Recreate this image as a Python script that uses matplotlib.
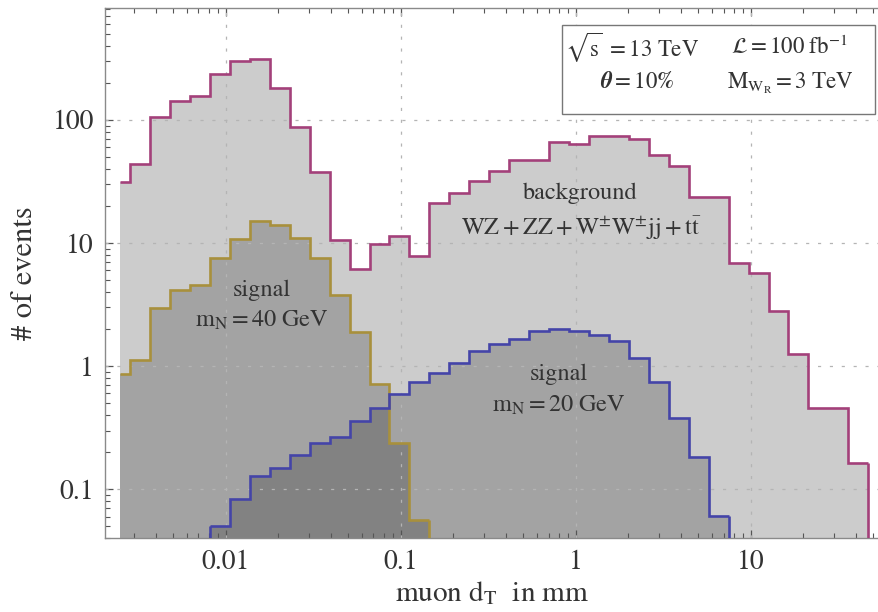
import numpy as np
import matplotlib
matplotlib.use("Agg")
import matplotlib.pyplot as plt
from matplotlib.patches import Rectangle
from matplotlib.ticker import LogLocator, NullFormatter, FixedLocator, FixedFormatter

plt.rcParams['font.family'] = ['STIXGeneral', 'DejaVu Serif']
plt.rcParams['mathtext.fontset'] = 'stix'

# ---- data ----
# bin edges in mm (first bin partially shown, then log-spaced bins)
first_edge = 0.00248
bin_edges = np.concatenate([[first_edge], np.logspace(-2.545, 1.671, 38)])

background = [31.5, 43.7, 106, 143, 157, 235, 301, 313, 181, 87, 37.6, 10.5,
              6.2, 9.8, 11.5, 7.8, 21.3, 25.4, 32.0, 38.6, 47.3, 47.3, 65.9,
              63.5, 74, 74, 70, 52, 42.3, 23.8, 23.8, 6.9, 5.7, 2.83, 1.25,
              0.46, 0.46, 0.163]
# signal mN = 40 GeV: bins 0..15
signal40 = [0.86, 1.12, 2.99, 4.16, 4.57, 7.6, 10.8, 15.2, 14.0, 10.9, 7.5,
            3.79, 1.88, 0.71, 0.236, 0.0563]
sig40_first_bin = 0
# signal mN = 20 GeV: bins 5..30
signal20 = [0.0503, 0.0834, 0.129, 0.150, 0.189, 0.239, 0.268, 0.359, 0.455,
            0.59, 0.74, 0.885, 1.06, 1.33, 1.51, 1.65, 1.93, 2.01, 1.93, 1.79,
            1.60, 1.16, 0.748, 0.382, 0.184, 0.0607]
sig20_first_bin = 5

x_ticks = [0.01, 0.1, 1, 10]
x_ticklabels = ['0.01', '0.1', '1', '10']
y_ticks = [0.1, 1, 10, 100]
y_ticklabels = ['0.1', '1', '10', '100']

# ---- styles ----
c_bg = '#a3407a'
c_40 = '#a8903c'
c_20 = '#4444a8'
txt = '#333333'
axis_c = '#8a8a8a'
base = 1e-3

fig = plt.figure(figsize=(8.79, 6.12), dpi=100)
ax = fig.add_axes([0.1195, 0.1204, 0.8805, 0.8665])
ax.set_xscale('log')
ax.set_yscale('log')
ax.set_xlim(0.00205, 54)
ax.set_ylim(0.04, 810)

def draw(vals, start, color, left_side):
    vals = np.asarray(vals, float)
    edges = bin_edges[start:start + len(vals) + 1]
    ax.stairs(vals, edges, baseline=base, fill=True, color='black',
              alpha=0.2, linewidth=0, zorder=1)
    ax.stairs(vals, edges, baseline=None, color=color, linewidth=1.9, zorder=3)
    ax.vlines([edges[-1]], base, vals[-1], color=color, linewidth=1.9, zorder=3)
    if left_side:
        ax.vlines([edges[0]], base, vals[0], color=color, linewidth=1.9, zorder=3)

draw(background, 0, c_bg, False)
draw(signal40, sig40_first_bin, c_40, False)
draw(signal20, sig20_first_bin, c_20, True)

# grid
for xv in x_ticks:
    ax.axvline(xv, color='#b4b4b4', lw=0.9, ls=(0, (2.5, 7)), zorder=2)
for yv in y_ticks:
    ax.axhline(yv, color='#b4b4b4', lw=0.9, ls=(0, (2.5, 7)), zorder=2)

# spines & ticks
ax.spines['right'].set_visible(False)
for s in ['left', 'bottom', 'top']:
    ax.spines[s].set_color(axis_c)
    ax.spines[s].set_linewidth(1.0)
ax.xaxis.set_major_locator(FixedLocator(x_ticks))
ax.xaxis.set_major_formatter(FixedFormatter(x_ticklabels))
ax.yaxis.set_major_locator(FixedLocator(y_ticks))
ax.yaxis.set_major_formatter(FixedFormatter(y_ticklabels))
ax.xaxis.set_minor_locator(LogLocator(base=10, subs=np.arange(2, 10), numticks=20))
ax.yaxis.set_minor_locator(LogLocator(base=10, subs=np.arange(2, 10), numticks=20))
ax.xaxis.set_minor_formatter(NullFormatter())
ax.yaxis.set_minor_formatter(NullFormatter())
ax.tick_params(which='both', direction='in', color='#555555', top=True,
               right=False, labelsize=20, labelcolor=txt)
ax.tick_params(which='major', length=6, width=0.9, pad=8)
ax.tick_params(which='minor', length=3.5, width=0.8)

ax.set_xlabel(r'muon d$_{\mathrm{T}}$  in mm', fontsize=21, color=txt, labelpad=3)
ax.set_ylabel('# of events', fontsize=22, color=txt, labelpad=10)

# annotations
ax.text(1.06, 25.5, 'background', ha='center', va='center', fontsize=17.5, color=txt, zorder=4)
ax.text(1.08, 13.3, r'$\mathrm{WZ+ZZ+W^{\pm}W^{\pm}jj+t\bar{t}}$', ha='center',
        va='center', fontsize=17.5, color=txt, zorder=4)
ax.text(0.0162, 4.16, 'signal', ha='center', va='center', fontsize=17.5, color=txt, zorder=4)
ax.text(0.0162, 2.37, r'$\mathrm{m_N = 40\ GeV}$', ha='center', va='center',
        fontsize=17.5, color=txt, zorder=4)
ax.text(0.796, 0.865, 'signal', ha='center', va='center', fontsize=17.5, color=txt, zorder=4)
ax.text(0.796, 0.484, r'$\mathrm{m_N = 20\ GeV}$', ha='center', va='center',
        fontsize=17.5, color=txt, zorder=4)

# info box
ax.add_patch(Rectangle((0.591, 0.801), 0.404, 0.167, transform=ax.transAxes,
                       facecolor='white', edgecolor='#777777', lw=1.0, zorder=5))
ax.text(0.681, 0.925, r'$\sqrt{\mathrm{s}}\ = 13\ \mathrm{TeV}$', transform=ax.transAxes,
        ha='center', va='center', fontsize=16.5, color=txt, zorder=6)
ax.text(0.884, 0.925, r'$\boldsymbol{\mathcal{L}} = 100\ \mathrm{fb}^{-1}$', transform=ax.transAxes,
        ha='center', va='center', fontsize=16.5, color=txt, zorder=6)
ax.text(0.687, 0.859, r'$\boldsymbol{\theta} = 10\boldsymbol{\%}$', transform=ax.transAxes,
        ha='center', va='center', fontsize=16.5, color=txt, zorder=6)
ax.text(0.885, 0.859, r'$\mathrm{M_{W_{R}}} = 3\ \mathrm{TeV}$', transform=ax.transAxes,
        ha='center', va='center', fontsize=16.5, color=txt, zorder=6)

fig.savefig('out.png', dpi=100)
